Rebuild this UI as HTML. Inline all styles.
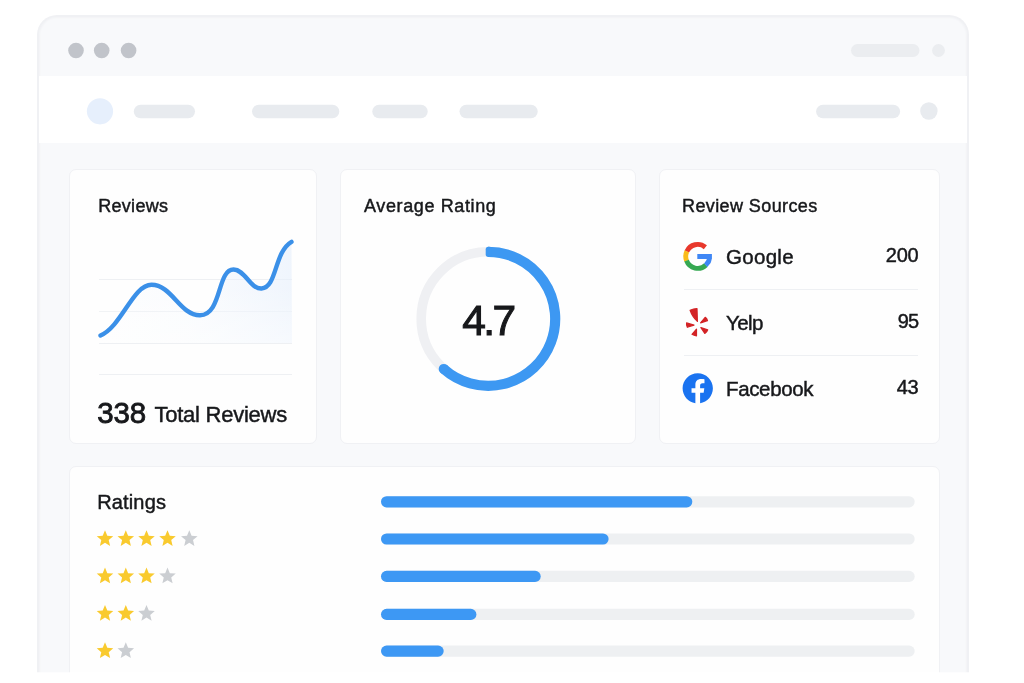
<!DOCTYPE html>
<html lang="en"><head><meta charset="utf-8"><title>Reviews Dashboard</title>
<style>
html,body{margin:0;padding:0;background:#fff;}
body{width:1024px;height:683px;position:relative;overflow:hidden;font-family:"Liberation Sans",sans-serif;color:#17181b;}
.abs{position:absolute;}
.win{position:absolute;left:37px;top:15px;width:932px;height:660px;box-sizing:border-box;background:#f8f9fb;border:2px solid #f0f1f4;border-bottom:none;box-shadow:inset 0 0 2px 0.5px #eff0f3;border-radius:20px 20px 0 0;overflow:hidden;}
.nav{position:absolute;left:39px;top:76px;width:928px;height:67px;background:#fff;}
.card{position:absolute;background:#fefefe;border:1px solid #f0f1f4;border-radius:7px;box-sizing:border-box;}
.t{position:absolute;white-space:nowrap;line-height:1;-webkit-text-stroke:0.45px #17181b;}
.hr{position:absolute;height:1px;background:#eef0f3;}
svg{position:absolute;left:0;top:0;}
</style></head><body>
<div class="win"></div>
<div class="nav"></div>
<div class="card" style="left:69px;top:169px;width:248px;height:274.5px"></div>
<div class="card" style="left:340px;top:169px;width:296px;height:274.5px"></div>
<div class="card" style="left:659px;top:169px;width:281px;height:274.5px"></div>
<div class="card" style="left:69px;top:466px;width:871px;height:230px"></div>

<!-- card 1 -->
<div class="t" id="t1" style="left:98.2px;top:197.2px;font-size:18px;letter-spacing:0.3px">Reviews</div>
<div class="hr" style="left:98.5px;top:279px;width:193.5px"></div>
<div class="hr" style="left:98.5px;top:311px;width:193.5px"></div>
<div class="hr" style="left:98.5px;top:343px;width:193.5px"></div>
<div class="hr" style="left:98.5px;top:373.6px;width:193.5px"></div>
<div class="t" id="t2" style="left:97.2px;top:398.2px;font-size:29.5px;letter-spacing:-0.1px;-webkit-text-stroke:0.85px #17181b">338</div>
<div class="t" id="t3" style="left:154.5px;top:404.4px;font-size:22px;letter-spacing:-0.25px">Total Reviews</div>

<!-- card 2 -->
<div class="t" id="t4" style="left:364px;top:197.2px;font-size:18px;letter-spacing:0.62px">Average Rating</div>
<div class="t" id="t5" style="left:462.3px;top:299.9px;font-size:42.5px;letter-spacing:-2.6px;-webkit-text-stroke:1.05px #17181b">4.7</div>

<!-- card 3 -->
<div class="t" id="t6" style="left:682px;top:197.2px;font-size:18px;letter-spacing:0.4px">Review Sources</div>
<div class="t" id="t7" style="left:726px;top:247.2px;font-size:20.5px;letter-spacing:0.3px">Google</div>
<div class="t" id="t8" style="left:726px;top:313.2px;font-size:20.5px;letter-spacing:-0.6px">Yelp</div>
<div class="t" id="t9" style="left:726px;top:379.2px;font-size:20.5px;letter-spacing:-0.35px">Facebook</div>
<div class="t" id="t10" style="right:105.5px;top:245.3px;font-size:20px;letter-spacing:-0.2px">200</div>
<div class="t" id="t11" style="right:105.5px;top:311.2px;font-size:20px;letter-spacing:-0.7px">95</div>
<div class="t" id="t12" style="right:105.5px;top:377.2px;font-size:20px;letter-spacing:-0.2px">43</div>
<div class="hr" style="left:684px;top:288.5px;width:234px"></div>
<div class="hr" style="left:684px;top:354.5px;width:234px"></div>

<!-- card 4 -->
<div class="t" id="t13" style="left:97.2px;top:492px;font-size:20px;letter-spacing:0.15px">Ratings</div>

<svg width="1024" height="683" viewBox="0 0 1024 683">
<defs>
<linearGradient id="ag" x1="0" y1="0" x2="1" y2="0"><stop offset="0" stop-color="#eaf2fd" stop-opacity="0.03"/><stop offset="0.45" stop-color="#eaf2fd" stop-opacity="0.2"/><stop offset="1" stop-color="#e6effc" stop-opacity="0.6"/></linearGradient>
<linearGradient id="fade" x1="0" y1="0" x2="0" y2="1"><stop offset="0" stop-color="#fff" stop-opacity="0"/><stop offset="1" stop-color="#fff" stop-opacity="0.45"/></linearGradient>
</defs>
<circle cx="76" cy="50.5" r="7.8" fill="#c1c4ca"/><circle cx="101.7" cy="50.5" r="7.8" fill="#c1c4ca"/><circle cx="128.6" cy="50.5" r="7.8" fill="#c1c4ca"/>
<rect x="0" y="672.3" width="1024" height="12" fill="#fff"/>
<rect x="851" y="44.1" width="68.5" height="12.9" rx="6.45" fill="#ebedf0"/>
<circle cx="938.5" cy="50.5" r="6.4" fill="#ebedf0"/>
<circle cx="100" cy="111.3" r="13.1" fill="#e6effc"/>
<g fill="#e8ebef">
<rect x="133.8" y="104.8" width="61.2" height="13.5" rx="6.75"/>
<rect x="252" y="104.8" width="87.3" height="13.5" rx="6.75"/>
<rect x="372.3" y="104.8" width="55.4" height="13.5" rx="6.75"/>
<rect x="459.5" y="104.8" width="78.2" height="13.5" rx="6.75"/>
<rect x="816.1" y="104.8" width="84" height="13.5" rx="6.75"/>
<circle cx="928.9" cy="111" r="8.7"/>
</g>
<!-- chart -->
<path id="area" d="M100.5 335.5 C 122 326, 133 284.8, 151.5 284.8 C 172 284.8, 180 315.5, 200 315.2 C 222 315, 217 269.5, 233.5 269.5 C 245 269.5, 250 289, 261.5 288.5 C 277 288, 274 252, 291.5 241.8 L 292 343 L 100.5 343 Z" fill="url(#ag)"/>
<rect x="98" y="285" width="195" height="58" fill="url(#fade)"/>
<path d="M100.5 335.5 C 122 326, 133 284.8, 151.5 284.8 C 172 284.8, 180 315.5, 200 315.2 C 222 315, 217 269.5, 233.5 269.5 C 245 269.5, 250 289, 261.5 288.5 C 277 288, 274 252, 291.5 241.8" fill="none" stroke="#3b90e8" stroke-width="4.4" stroke-linecap="round" stroke-linejoin="round"/>
<!-- ring -->
<circle cx="488.2" cy="318.8" r="67.0" fill="none" stroke="#eff0f3" stroke-width="9.6"/>
<path d="M 488.20 251.80 A 67.00 67.00 0 1 1 443.80 368.98" fill="none" stroke="#3d98f2" stroke-width="10.2" stroke-linecap="butt"/>
<circle cx="443.80" cy="368.98" r="5.1" fill="#3d98f2"/>
<rect x="485.70" y="246.70" width="6" height="10.2" rx="2.6" fill="#3d98f2"/>
<!-- google -->
<clipPath id="gb"><rect x="690" y="254.0" width="21.7" height="30"/></clipPath>
<path d="M705.38 247.25 A11.95 11.95 0 0 0 686.78 251.54" fill="none" stroke="#e8382c" stroke-width="4.90"/>
<path d="M686.87 251.35 A11.95 11.95 0 0 0 686.58 260.78" fill="none" stroke="#fabb19" stroke-width="4.90"/>
<path d="M686.54 260.68 A11.95 11.95 0 0 0 705.85 265.14" fill="none" stroke="#36a852" stroke-width="4.90"/>
<g clip-path="url(#gb)"><path d="M705.70 265.28 A11.95 11.95 0 0 0 709.30 253.51" fill="none" stroke="#3f87f5" stroke-width="4.90"/></g>
<rect x="697.3" y="254.0" width="14.4" height="5.0" fill="#3f87f5"/>
<!-- yelp -->
<g fill="#d32326" stroke="#d32326" stroke-width="1.2" stroke-linejoin="round">
<path d="M690.1 310.2 Q693.6 308.6 697 308.5 L697.4 321.4 Q692.2 316.4 690.1 310.2 Z"/>
<path d="M700.6 322.9 L705.2 317.3 Q707 318.6 707.5 320.6 Z"/>
<path d="M686.6 322.9 L694 325.1 L687.3 327.3 Q686.2 325.2 686.6 322.9 Z"/>
<path d="M696.5 329.2 L692 334.3 Q694 335.6 696.5 335.8 Z"/>
<path d="M700.9 327.6 L707.7 329.9 Q707 332.2 704.8 333.4 Z"/>
</g>
<!-- facebook -->
<circle cx="697.7" cy="388.2" r="15" fill="#fff"/>
<g transform="translate(682.6 373.1) scale(1.262)">
<path fill="#1a73f0" d="M24 12.073c0-6.627-5.373-12-12-12s-12 5.373-12 12c0 5.99 4.388 10.954 10.125 11.854v-8.385H7.078v-3.47h3.047V9.43c0-3.007 1.792-4.669 4.533-4.669 1.312 0 2.686.235 2.686.235v2.953H15.83c-1.491 0-1.956.925-1.956 1.874v2.25h3.328l-.532 3.47h-2.796v8.385C19.612 23.027 24 18.062 24 12.073z"/>
</g>
<!-- bars -->
<rect x="381" y="496.2" width="533.7" height="11.2" rx="5.6" fill="#eef0f2"/>
<rect x="381" y="496.2" width="311.3" height="11.2" rx="5.6" fill="#3d98f4"/>
<rect x="381" y="533.4" width="533.7" height="11.2" rx="5.6" fill="#eef0f2"/>
<rect x="381" y="533.4" width="227.6" height="11.2" rx="5.6" fill="#3d98f4"/>
<rect x="381" y="570.8" width="533.7" height="11.2" rx="5.6" fill="#eef0f2"/>
<rect x="381" y="570.8" width="159.7" height="11.2" rx="5.6" fill="#3d98f4"/>
<rect x="381" y="608.8" width="533.7" height="11.2" rx="5.6" fill="#eef0f2"/>
<rect x="381" y="608.8" width="95.4" height="11.2" rx="5.6" fill="#3d98f4"/>
<rect x="381" y="645.5" width="533.7" height="11.2" rx="5.6" fill="#eef0f2"/>
<rect x="381" y="645.5" width="62.7" height="11.2" rx="5.6" fill="#3d98f4"/>
<!-- stars -->
<polygon points="105.00,530.20 107.30,535.73 113.27,536.21 108.72,540.11 110.11,545.94 105.00,542.81 99.89,545.94 101.28,540.11 96.73,536.21 102.70,535.73" fill="#f9ca2e"/>
<polygon points="125.80,530.20 128.10,535.73 134.07,536.21 129.52,540.11 130.91,545.94 125.80,542.81 120.69,545.94 122.08,540.11 117.53,536.21 123.50,535.73" fill="#f9ca2e"/>
<polygon points="146.50,530.20 148.80,535.73 154.77,536.21 150.22,540.11 151.61,545.94 146.50,542.81 141.39,545.94 142.78,540.11 138.23,536.21 144.20,535.73" fill="#f9ca2e"/>
<polygon points="167.50,530.20 169.80,535.73 175.77,536.21 171.22,540.11 172.61,545.94 167.50,542.81 162.39,545.94 163.78,540.11 159.23,536.21 165.20,535.73" fill="#f9ca2e"/>
<polygon points="189.30,530.20 191.60,535.73 197.57,536.21 193.02,540.11 194.41,545.94 189.30,542.81 184.19,545.94 185.58,540.11 181.03,536.21 187.00,535.73" fill="#cbced2"/>
<polygon points="105.00,567.60 107.30,573.13 113.27,573.61 108.72,577.51 110.11,583.34 105.00,580.21 99.89,583.34 101.28,577.51 96.73,573.61 102.70,573.13" fill="#f9ca2e"/>
<polygon points="125.80,567.60 128.10,573.13 134.07,573.61 129.52,577.51 130.91,583.34 125.80,580.21 120.69,583.34 122.08,577.51 117.53,573.61 123.50,573.13" fill="#f9ca2e"/>
<polygon points="146.50,567.60 148.80,573.13 154.77,573.61 150.22,577.51 151.61,583.34 146.50,580.21 141.39,583.34 142.78,577.51 138.23,573.61 144.20,573.13" fill="#f9ca2e"/>
<polygon points="167.50,567.60 169.80,573.13 175.77,573.61 171.22,577.51 172.61,583.34 167.50,580.21 162.39,583.34 163.78,577.51 159.23,573.61 165.20,573.13" fill="#cbced2"/>
<polygon points="105.00,605.00 107.30,610.53 113.27,611.01 108.72,614.91 110.11,620.74 105.00,617.62 99.89,620.74 101.28,614.91 96.73,611.01 102.70,610.53" fill="#f9ca2e"/>
<polygon points="125.80,605.00 128.10,610.53 134.07,611.01 129.52,614.91 130.91,620.74 125.80,617.62 120.69,620.74 122.08,614.91 117.53,611.01 123.50,610.53" fill="#f9ca2e"/>
<polygon points="146.50,605.00 148.80,610.53 154.77,611.01 150.22,614.91 151.61,620.74 146.50,617.62 141.39,620.74 142.78,614.91 138.23,611.01 144.20,610.53" fill="#cbced2"/>
<polygon points="105.00,642.30 107.30,647.83 113.27,648.31 108.72,652.21 110.11,658.04 105.00,654.91 99.89,658.04 101.28,652.21 96.73,648.31 102.70,647.83" fill="#f9ca2e"/>
<polygon points="125.80,642.30 128.10,647.83 134.07,648.31 129.52,652.21 130.91,658.04 125.80,654.91 120.69,658.04 122.08,652.21 117.53,648.31 123.50,647.83" fill="#cbced2"/>
</svg>
</body></html>
